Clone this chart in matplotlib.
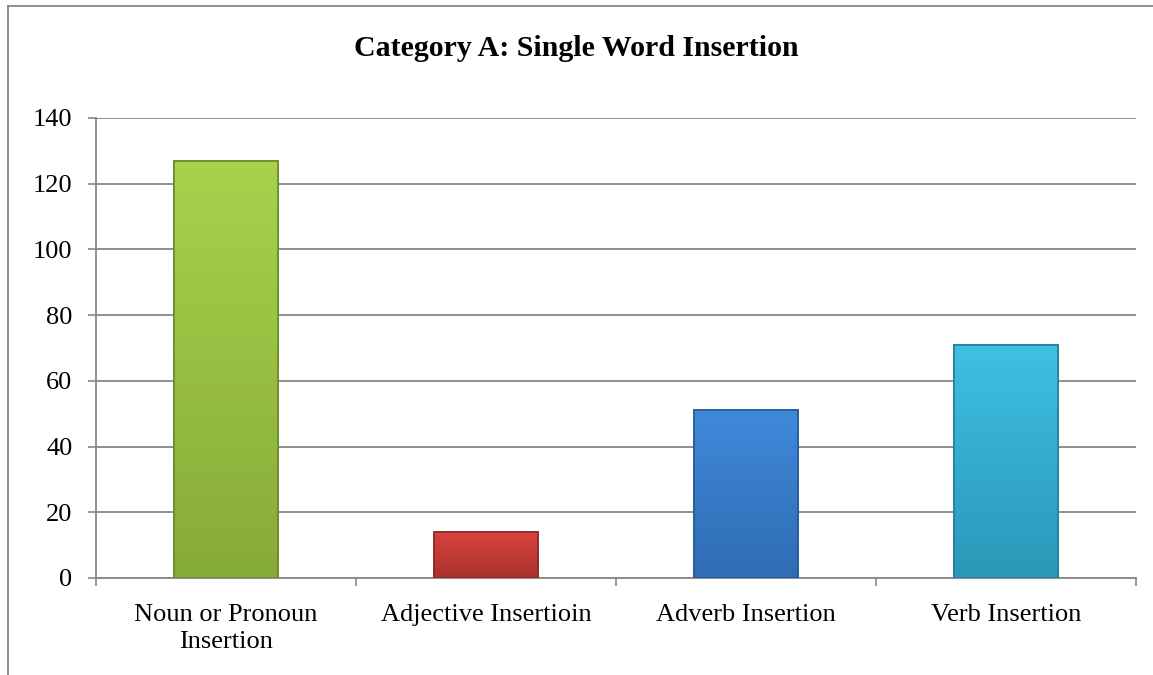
import matplotlib
matplotlib.use("Agg")
import matplotlib.pyplot as plt
import numpy as np
from matplotlib.colors import LinearSegmentedColormap
from matplotlib.lines import Line2D

categories = ["Noun or Pronoun\nInsertion", "Adjective Insertioin", "Adverb Insertion", "Verb Insertion"]
counts = [127, 14, 51, 71]
# (top colour, bottom colour, edge colour) for each bar
bar_shades = [("#a8d24c", "#86ab38", "#6b8a2a"),
              ("#d8433c", "#a8312e", "#8e2a27"),
              ("#4089da", "#2f6cb4", "#275b98"),
              ("#3fc0e4", "#2a98b8", "#23809c")]
yticks = [0, 20, 40, 60, 80, 100, 120, 140]

plt.rcParams['font.family'] = ['Liberation Serif', 'DejaVu Serif']
grid_grey = "#878787"

fig = plt.figure(figsize=(11.53, 6.75), dpi=100)
ax = fig.add_axes([96/1153, 1 - 578/675, 1040/1153, 460/675])

x = np.arange(len(categories))
bars = ax.bar(x, counts, width=0.4, zorder=3)

# fake the bevelled look with a vertical gradient clipped to each bar
for patch, (top, bottom, edge) in zip(bars, bar_shades):
    patch.set_facecolor(bottom)
    patch.set_edgecolor(edge)
    patch.set_linewidth(1.2)
    cmap = LinearSegmentedColormap.from_list("g", [bottom, top])
    x0, y0 = patch.get_x(), patch.get_y()
    w, h = patch.get_width(), patch.get_height()
    grad = np.linspace(0, 1, 100).reshape(-1, 1)
    im = ax.imshow(grad, cmap=cmap, origin="lower", aspect="auto",
                   extent=[x0, x0 + w, y0, y0 + h], zorder=3.5)
    im.set_clip_path(patch)
    ax.bar(x0 + w/2, h, width=w, bottom=y0, facecolor="none",
           edgecolor=edge, linewidth=1.2, zorder=4)

ax.set_xlim(-0.5, len(categories) - 0.5)
ax.set_ylim(0, 140)
ax.set_yticks(yticks)
ax.set_xticks(x)
ax.set_xticklabels(categories, fontsize=19, linespacing=1.28)
ax.set_xticks(np.arange(-0.5, len(categories)), minor=True)
ax.tick_params(axis="x", which="major", length=0, pad=19)
ax.tick_params(axis="x", which="minor", length=6, width=1.2, color=grid_grey)
ax.tick_params(axis="y", length=6, width=1.2, color=grid_grey, pad=11, labelsize=19)

ax.yaxis.grid(True, color=grid_grey, linewidth=1.3, zorder=0)
ax.set_axisbelow(True)
for side in ["top", "right"]:
    ax.spines[side].set_visible(False)
for side in ["left", "bottom"]:
    ax.spines[side].set_color(grid_grey)
    ax.spines[side].set_linewidth(1.3)

fig.text(0.5, 1 - 48/675, "Category A: Single Word Insertion", ha="center", va="center",
         fontsize=21.5, fontweight="bold")

# chart area border (only top and left show in the crop)
fig.add_artist(Line2D([8/1153, 1], [1 - 6/675, 1 - 6/675], color=grid_grey, linewidth=1.3))
fig.add_artist(Line2D([8/1153, 8/1153], [0, 1 - 6/675], color=grid_grey, linewidth=1.3))

fig.savefig("out.png", dpi=100)
